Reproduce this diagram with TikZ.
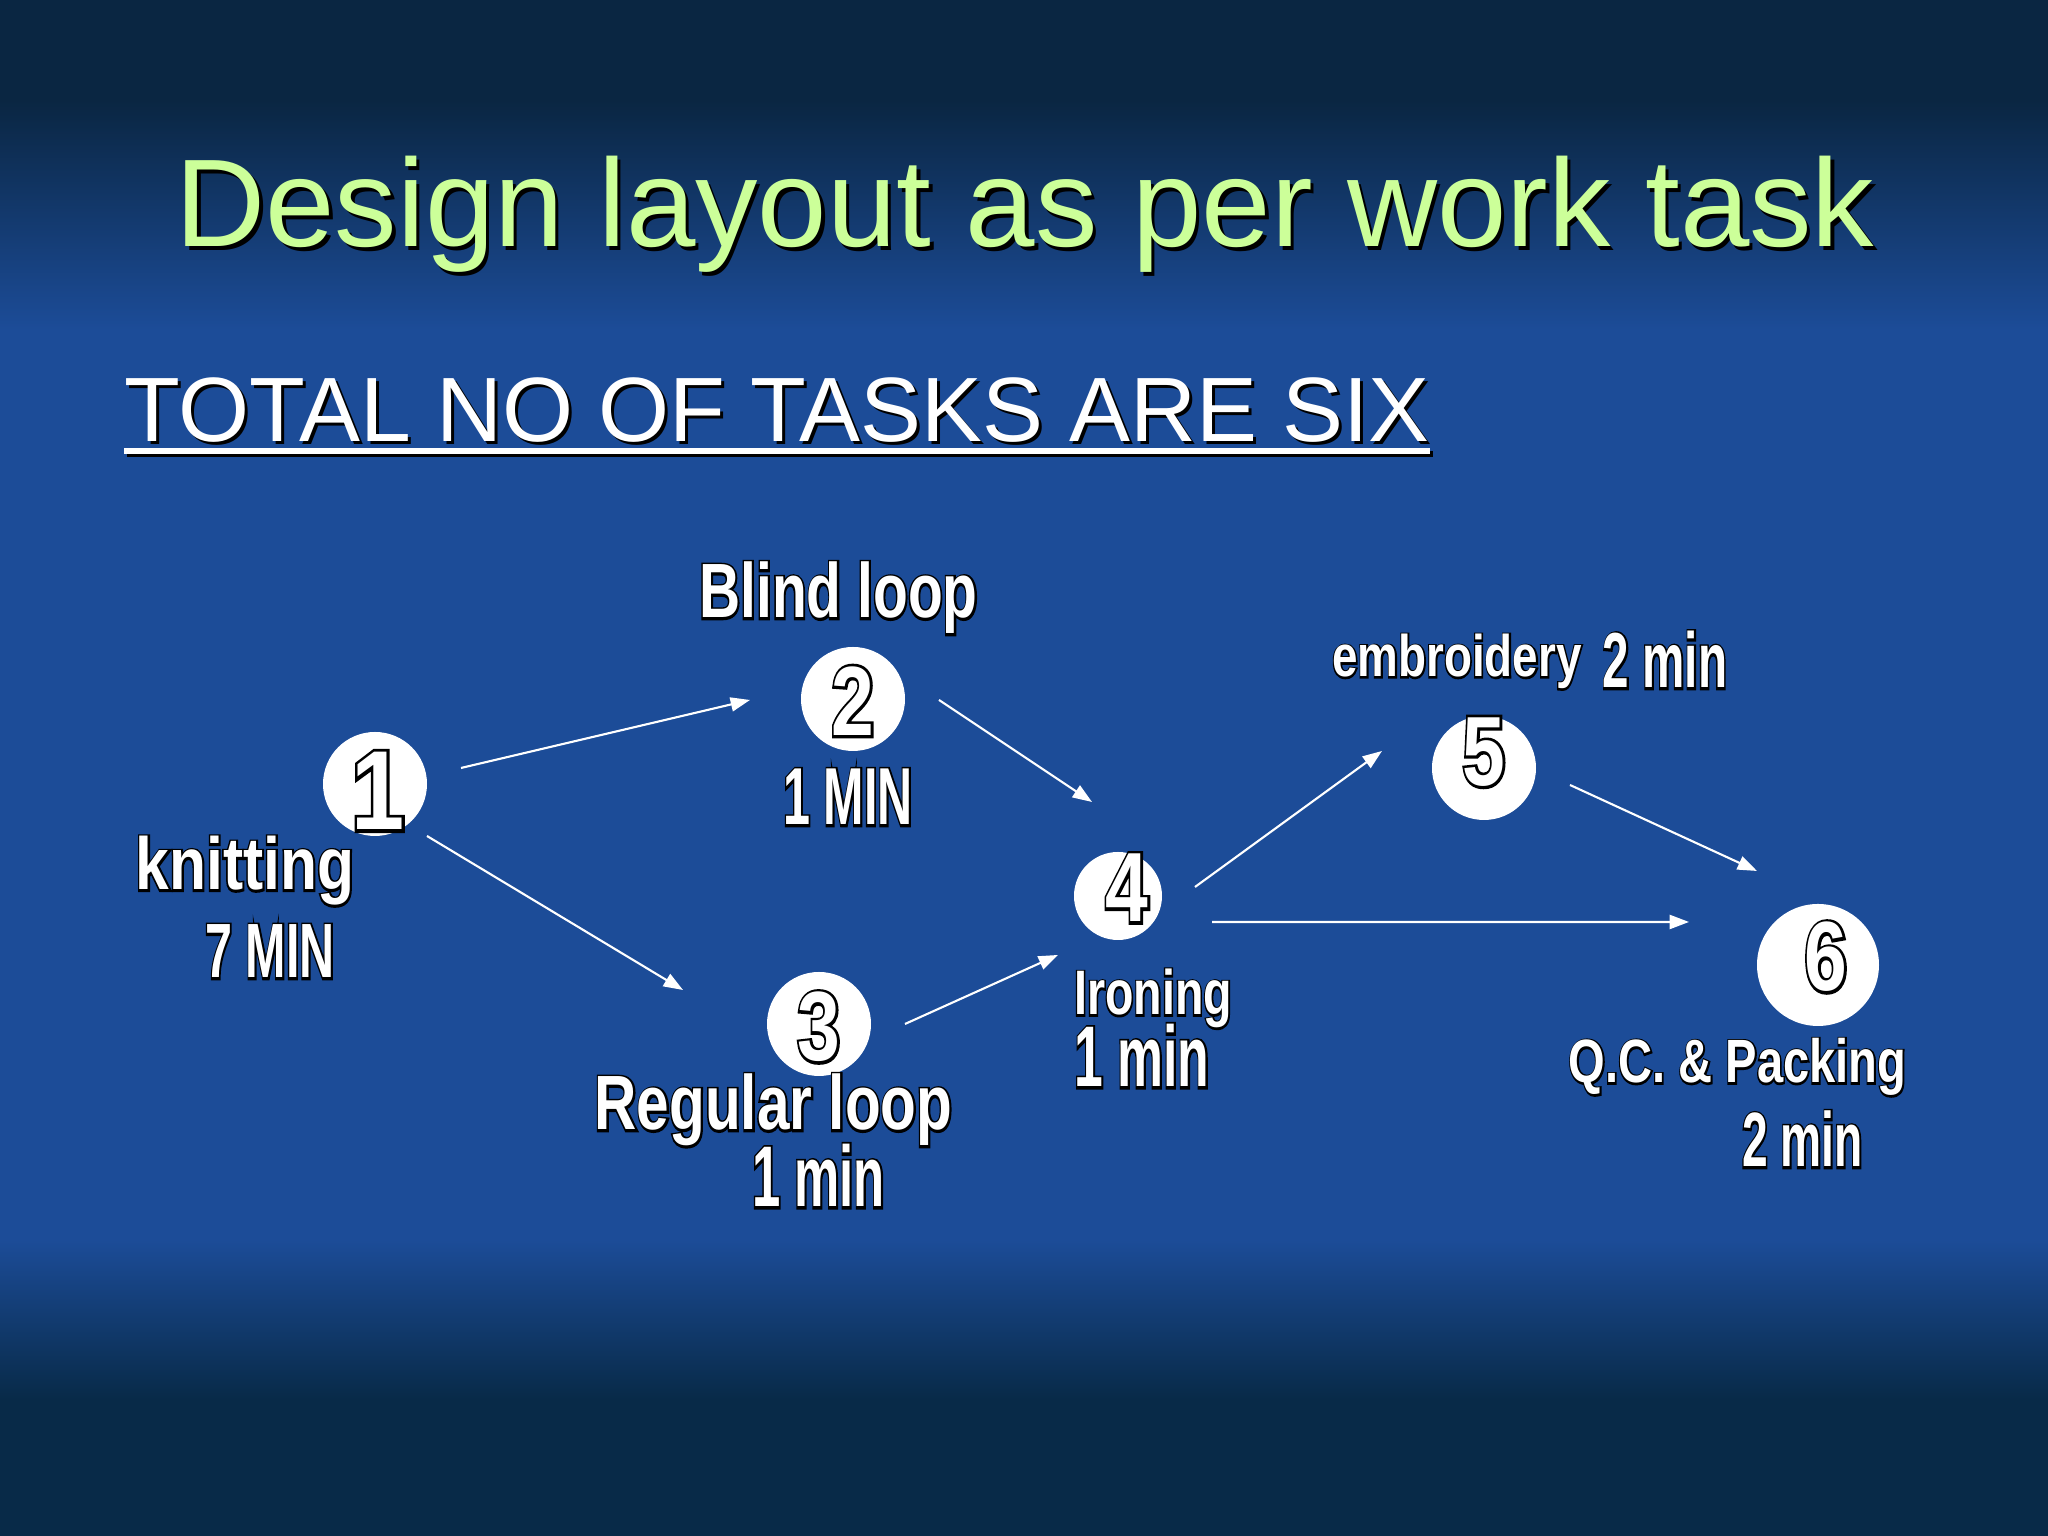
\documentclass[tikz,border=0pt]{standalone}
\usepackage{fontspec}
\setmainfont{Liberation Sans}
\newfontfamily\lsans{Liberation Sans}
\newfontfamily\lsanso{Liberation Sans}[BoldFeatures={FakeBold=6}]
\usepackage{graphicx}
\usetikzlibrary{arrows.meta}
\definecolor{bgtop}{RGB}{10,38,66}
\definecolor{bgmid}{RGB}{28,76,152}
\definecolor{bgbot}{RGB}{8,42,72}
\definecolor{titlegreen}{RGB}{204,255,153}
\newcommand\otext[1]{\rlap{\color{black}\lsanso\bfseries #1}{\color{white}\lsans\bfseries #1}}
\newcommand\lbl[3]{\fontsize{#1}{#1}\selectfont\scalebox{#2}[1]{\otext{#3}}}
\tikzset{
  circ/.style={circle, fill=white, draw=none, inner sep=0pt, minimum size=#1},
  lab/.style={inner sep=0pt, anchor=base},
  dig/.style={inner sep=0pt, anchor=center},
  conn/.style={draw=white, line width=0.6pt, -{Triangle[length=5.5pt,width=4pt]}},
}
\begin{document}
\begin{tikzpicture}
\useasboundingbox (0,0) rectangle (20.48,15.36);
% background
\fill[bgmid] (0,0) rectangle (20.48,15.36);
\fill[bgtop] (0,14.36) rectangle (20.48,15.36);
\shade[top color=bgtop, bottom color=bgmid] (0,12.06) rectangle (20.48,14.36);
\shade[top color=bgmid, bottom color=bgbot] (0,1.36) rectangle (20.48,2.96);
\fill[bgbot] (0,0) rectangle (20.48,1.36);

% title
\node[lab, text=black] (titleshadow) at (10.285,12.855) {\fontsize{35.5}{35.5}\selectfont Design layout as per work task};
\node[lab, text=titlegreen] (title) at (10.25,12.89) {\fontsize{35.5}{35.5}\selectfont Design layout as per work task};

% subtitle
\node[lab, anchor=base west, text=black] (subshadow) at (1.27,10.91) {\fontsize{26}{26}\selectfont TOTAL NO OF TASKS ARE SIX};
\node[lab, anchor=base west, text=white] (sub) at (1.24,10.94) {\fontsize{26}{26}\selectfont TOTAL NO OF TASKS ARE SIX};
\draw[black, line width=1.5pt] ([xshift=0.03cm,yshift=-0.12cm]sub.base west) -- ([xshift=0.03cm,yshift=-0.12cm]sub.base east);
\draw[white, line width=1.5pt] ([yshift=-0.09cm]sub.base west) -- ([yshift=-0.09cm]sub.base east);

% circles
\node[circ=1.04cm] (n1) at (3.75,7.52) {};
\node[circ=1.04cm] (n2) at (8.53,8.37) {};
\node[circ=1.04cm] (n3) at (8.19,5.12) {};
\node[circ=0.88cm] (n4) at (11.18,6.40) {};
\node[circ=1.04cm] (n5) at (14.84,7.68) {};
\node[circ=1.22cm] (n6) at (18.18,5.71) {};

% digits
\node[dig] (d1) at (3.78,7.45) {\lbl{32}{0.85}{1}};
\node[dig] (d2) at (8.53,8.35) {\lbl{28}{0.78}{2}};
\node[dig] (d3) at (8.19,5.09) {\lbl{28}{0.78}{3}};
\node[dig] (d4) at (11.27,6.48) {\lbl{28}{0.78}{4}};
\node[dig] (d5) at (14.84,7.84) {\lbl{28}{0.78}{5}};
\node[dig] (d6) at (18.26,5.79) {\lbl{28}{0.78}{6}};

% labels
\node[lab] (l2a) at (8.385,9.18) {\lbl{21.9}{0.74}{Blind loop}};
\node[lab] (l2b) at (8.48,7.11) {\lbl{23}{0.60}{1 MIN}};
\node[lab] (l1a) at (2.45,6.46) {\lbl{21}{0.82}{knitting}};
\node[lab] (l1b) at (2.70,5.58) {\lbl{21.9}{0.63}{7 MIN}};
\node[lab] (l3a) at (7.735,4.06) {\lbl{21.9}{0.76}{Regular loop}};
\node[lab] (l3b) at (8.185,3.29) {\lbl{24.5}{0.59}{1 min}};
\node[lab] (l4a) at (11.53,5.21) {\lbl{17.9}{0.74}{Ironing}};
\node[lab] (l4b) at (11.42,4.49) {\lbl{24.5}{0.60}{1 min}};
\node[lab] (l5a) at (14.57,8.59) {\lbl{16.7}{0.78}{embroidery}};
\node[lab] (l5b) at (16.65,8.48) {\lbl{22.2}{0.61}{2 min}};
\node[lab] (l6a) at (17.375,4.53) {\lbl{17.4}{0.77}{Q.C. \& Packing}};
\node[lab] (l6b) at (18.025,3.69) {\lbl{21.9}{0.60}{2 min}};

% connectors
\draw[conn] ([shift={(0.86,0.16)}]n1.center) -- ([shift={(-1.03,-0.01)}]n2.center);
\draw[conn] ([shift={(0.52,-0.52)}]n1.center) -- ([shift={(-1.36,0.34)}]n3.center);
\draw[conn] ([shift={(0.86,-0.01)}]n2.center) -- ([shift={(-0.26,0.94)}]n4.center);
\draw[conn] ([shift={(0.86,0)}]n3.center) -- ([shift={(-0.60,-0.59)}]n4.center);
\draw[conn] ([shift={(0.77,0.09)}]n4.center) -- ([shift={(-1.02,0.17)}]n5.center);
\draw[conn] ([shift={(0.86,-0.17)}]n5.center) -- ([shift={(-0.61,0.94)}]n6.center);
\draw[conn] ([shift={(0.94,-0.26)}]n4.center) -- ([shift={(-1.29,0.43)}]n6.center);
\end{tikzpicture}
\end{document}
